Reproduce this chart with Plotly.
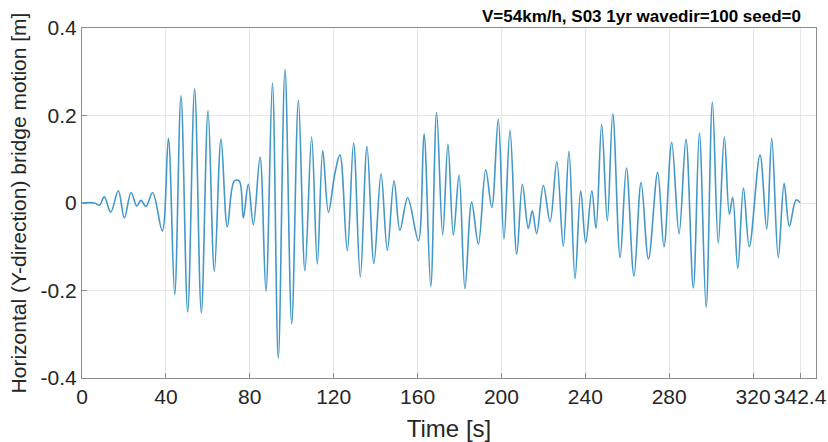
import plotly.graph_objects as go

# Time of local extrema [s]
time_s = [0, 6, 8.3, 10.6, 13.7, 17.3, 20.2, 23.4, 26.1, 28.1, 30.5, 33.7, 38.3, 41.2, 44.2,
          47.2, 50.4, 53.7, 56.9, 60.1, 63.1, 66.3, 69.3, 72.6, 75.0, 76.9, 79.3, 81.7, 84.9,
          87.7, 90.8, 93.6, 96.8, 100.0, 103.2, 106.3, 109.5, 112.2, 114.8, 117.5, 120.6,
          123.0, 126.5, 129.5, 132.7, 135.9, 139.2, 142.6, 145.6, 148.8, 151.6, 155.3,
          160.4, 163.1, 166.3, 169.1, 172.0, 174.5, 177.1, 179.8, 182.6, 185.8, 189.0,
          192.5, 195.4, 198.5, 201.2, 204.1, 207.3, 210.0, 212.8, 214.7, 216.8, 220.0,
          223.2, 226.4, 229.5, 232.2, 235.1, 237.8, 240.2, 243.1, 245.1, 247.8, 250.5,
          253.1, 256.6, 259.6, 263.2, 266.6, 270.1, 274.5, 277.5, 281.2, 284.7, 288.0,
          291.5, 294.4, 297.6, 300.6, 303.4, 306.3, 308.7, 310.3, 312.7, 315.4, 318.2,
          323.3, 326.5, 328.9, 332.0, 334.8, 337.3, 340.5, 342.4]

# Horizontal bridge motion at those extrema [m]
motion_m = [0.0, 0.0, -0.005, 0.014, -0.021, 0.028, -0.034, 0.024, -0.007, 0.006, -0.008,
            0.024, -0.064, 0.148, -0.209, 0.245, -0.249, 0.261, -0.251, 0.211, -0.156,
            0.146, -0.054, 0.050, 0.050, -0.034, 0.043, -0.050, 0.105, -0.201, 0.274,
            -0.355, 0.305, -0.276, 0.235, -0.155, 0.151, -0.140, 0.120, -0.021, 0.068,
            0.110, -0.109, 0.137, -0.169, 0.129, -0.138, 0.067, -0.108, 0.051, -0.062,
            0.012, -0.086, 0.158, -0.190, 0.207, -0.073, 0.135, -0.073, 0.064, -0.196,
            0.002, -0.094, 0.076, -0.010, 0.192, -0.083, 0.166, -0.117, 0.043, -0.058,
            -0.018, -0.070, 0.040, -0.043, 0.095, -0.099, 0.118, -0.173, 0.028, -0.091,
            0.028, -0.058, 0.180, -0.041, 0.204, -0.125, 0.080, -0.167, 0.047, -0.128,
            0.070, -0.100, 0.139, -0.070, 0.146, -0.194, 0.160, -0.239, 0.231, -0.092,
            0.151, -0.026, 0.013, -0.150, 0.034, -0.100, 0.110, -0.060, 0.148, -0.125,
            0.045, -0.053, 0.007, 0.001]

x_tick_vals = [0, 40, 80, 120, 160, 200, 240, 280, 320, 342.4]
x_tick_text = ["0", "40", "80", "120", "160", "200", "240", "280", "320", "342.4"]
y_tick_vals = [-0.4, -0.2, 0, 0.2, 0.4]
y_tick_text = ["-0.4", "-0.2", "0", "0.2", "0.4"]

title_text = "V=54km/h, S03 1yr wavedir=100 seed=0"

FONT = "Liberation Sans, Arial, sans-serif"

fig = go.Figure()
fig.add_trace(go.Scatter(
    x=time_s, y=motion_m, mode="lines",
    line=dict(color="#4398c8", width=1.6, shape="spline", smoothing=1.0),
    showlegend=False, hoverinfo="x+y"))

axis_common = dict(
    showline=True, linecolor="#8c8c8c", linewidth=1, mirror=True,
    showgrid=True, gridcolor="#e6e6e6", gridwidth=1,
    ticks="inside", ticklen=5, tickcolor="#8c8c8c",
    zeroline=False, automargin=False,
    tickfont=dict(family=FONT, size=21, color="#262626"),
)

fig.update_layout(
    width=828, height=442,
    margin=dict(l=82, r=12, t=28, b=64),
    paper_bgcolor="white", plot_bgcolor="white",
    xaxis=dict(range=[0, 350], tickmode="array", tickvals=x_tick_vals, ticktext=x_tick_text,
               title=dict(text="Time [s]", standoff=14,
                          font=dict(family=FONT, size=24, color="#262626")),
               **axis_common),
    yaxis=dict(range=[-0.4, 0.4], tickmode="array", tickvals=y_tick_vals, ticktext=y_tick_text,
               title=dict(text="Horizontal (Y-direction) bridge motion [m]", standoff=8,
                          font=dict(family=FONT, size=21, color="#262626")),
               **axis_common),
    annotations=[dict(text="<b>" + title_text + "</b>", xref="paper", yref="paper",
                      x=0.982, y=1.0, xanchor="right", yanchor="bottom", showarrow=False,
                      yshift=0,
                      font=dict(family=FONT, size=17, color="#000000"))],
)

fig.write_html("out.html")
